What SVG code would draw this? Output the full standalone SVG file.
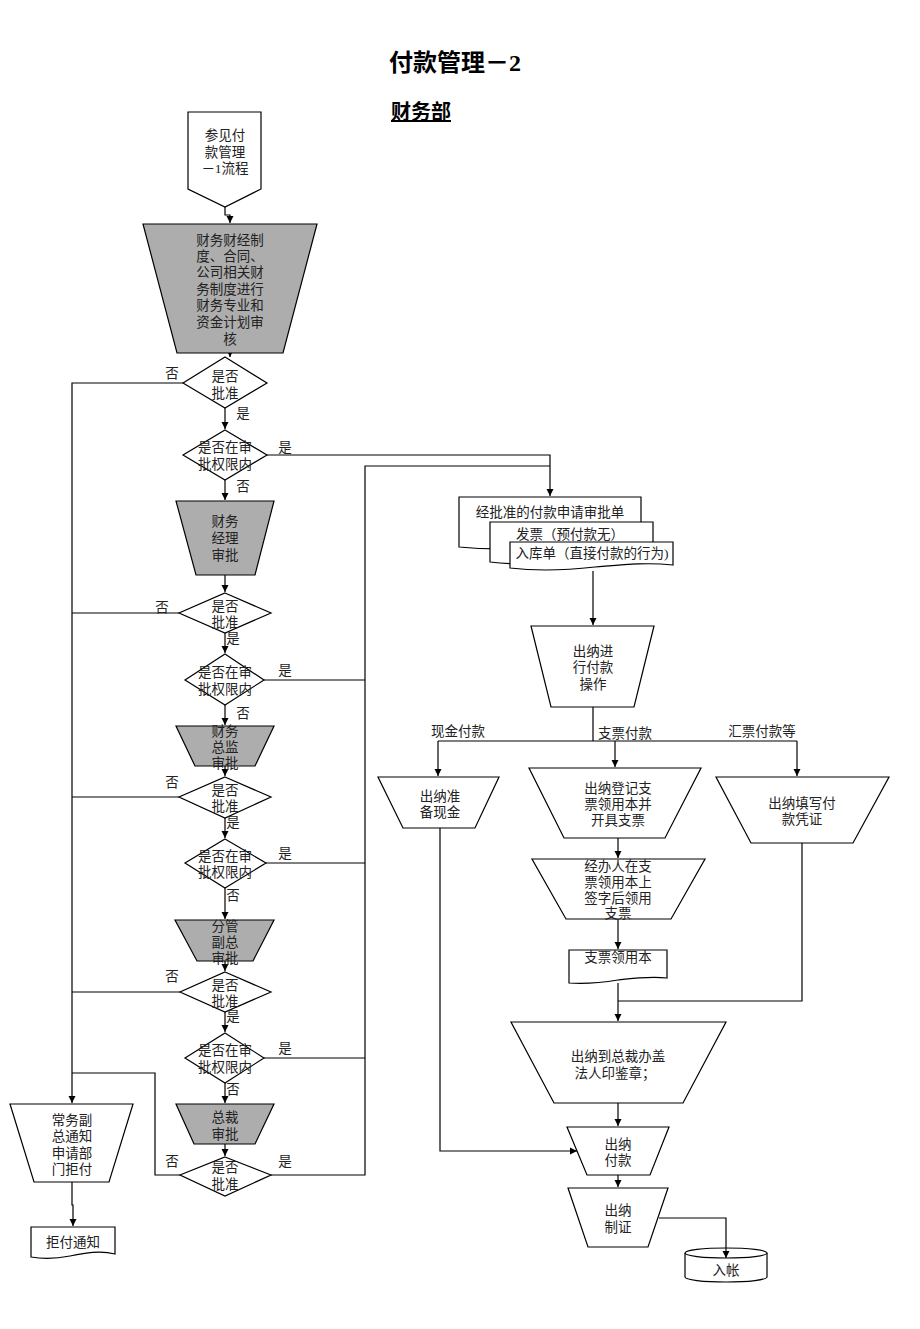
<svg xmlns="http://www.w3.org/2000/svg" width="920" height="1329" viewBox="0 0 920 1329">
<style>
.s{fill:#fff;stroke:#000;stroke-width:1.2}
.n{fill:none;stroke:#000;stroke-width:1.2}
.g{fill:#adadad;stroke:#000;stroke-width:1.2}
.t{font-family:"Liberation Serif","Noto Sans CJK SC",serif;font-size:13.5px;text-anchor:middle;fill:#222}
.c{fill:none;stroke:#000;stroke-width:1.2}
.a{marker-end:url(#ah)}
.h{font-family:"Liberation Serif","Noto Sans CJK SC",serif;font-weight:bold;text-anchor:middle;fill:#000}
</style>
<defs>
<marker id="ah" markerWidth="8" markerHeight="8" refX="7" refY="4" orient="auto" markerUnits="userSpaceOnUse"><path d="M0,0.5 L7,4 L0,7.5 z" fill="#000"/></marker>
</defs>
<rect width="920" height="1329" fill="#fff"/>
<text class="h" x="455" y="71" font-size="24">付款管理－2</text>
<text class="h" x="421" y="119" font-size="20" text-decoration="underline">财务部</text>

<g id="n-ledger">
<path class="s" d="M685,1253 V1277 A41,5 0 0 0 767,1277 V1253"/>
<ellipse class="s" cx="726" cy="1253" rx="41" ry="5"/>
<text class="t" x="726" y="1275">入帐</text>
</g>

<g id="connectors">
<path class="c a" d="M225,207 V215 H230 V223"/>
<path class="c a" d="M230,352 V357"/>
<path class="c a" d="M183,383 H72 V1103"/>
<path class="c a" d="M225,408 V429"/>
<path class="c a" d="M267,455 H550 V496"/>
<path class="c a" d="M225,480 V500"/>
<path class="c a" d="M225,575 V592"/>
<path class="c" d="M179,613 H72"/>
<path class="c a" d="M225,633 V653"/>
<path class="c" d="M264,680 H365"/>
<path class="c a" d="M225,705 V725"/>
<path class="c a" d="M225,766 V776"/>
<path class="c" d="M179,797 H72"/>
<path class="c a" d="M225,818 V838"/>
<path class="c" d="M266,863 H365"/>
<path class="c a" d="M225,888 V919"/>
<path class="c a" d="M225,961 V971"/>
<path class="c" d="M180,992 H72"/>
<path class="c a" d="M225,1012 V1032"/>
<path class="c" d="M264,1058 H365"/>
<path class="c a" d="M225,1083 V1103"/>
<path class="c a" d="M225,1144 V1156"/>
<path class="c" d="M271,1175 H365 V466 H550"/>
<path class="c" d="M180,1175 H155 V1073 H72"/>
<path class="c a" d="M72,1182 V1205 H73 V1226"/>
<path class="c a" d="M593,571 V625"/>
<path class="c" d="M593,707 V741 M438,741 H797"/>
<path class="c a" d="M438,741 V776"/>
<path class="c a" d="M615,741 V767"/>
<path class="c a" d="M797,741 V776"/>
<path class="c a" d="M618,838 V858"/>
<path class="c a" d="M618,919 V949"/>
<path class="c a" d="M618,983 V1021"/>
<path class="c" d="M802,843 V1001 H618"/>
<path class="c a" d="M618,1103 V1126"/>
<path class="c a" d="M440,828 V1151 H577"/>
<path class="c a" d="M618,1175 V1187"/>
<path class="c a" d="M659,1218 H726 V1258"/>
</g>

<g id="n-ref">
<polygon class="s" points="188,112 261,112 261,189 225,207 188,189"/>
<text class="t" x="225" y="140">参见付</text>
<text class="t" x="225" y="157">款管理</text>
<text class="t" x="225" y="173">－1流程</text>
</g>

<g id="n-audit">
<polygon class="g" points="143,224 317,224 283,353 177,353"/>
<text class="t" x="230" y="245">财务财经制</text>
<text class="t" x="230" y="261">度、合同、</text>
<text class="t" x="230" y="277">公司相关财</text>
<text class="t" x="230" y="294">务制度进行</text>
<text class="t" x="230" y="310">财务专业和</text>
<text class="t" x="230" y="327">资金计划审</text>
<text class="t" x="230" y="344">核</text>
</g>

<g id="d1">
<polygon class="s" points="225,357 267,383 225,408 183,383"/>
<text class="t" x="225" y="381">是否</text><text class="t" x="225" y="398">批准</text>
<text class="t" x="172" y="378">否</text><text class="t" x="243" y="418">是</text>
</g>
<g id="d2">
<polygon class="s" points="225,430 267,455 225,480 183,455"/>
<text class="t" x="225" y="452">是否在审</text><text class="t" x="225" y="469">批权限内</text>
<text class="t" x="285" y="452">是</text><text class="t" x="243" y="491">否</text>
</g>
<g id="n-mgr">
<polygon class="g" points="176,501 274,501 255,575 196,575"/>
<text class="t" x="225" y="526">财务</text><text class="t" x="225" y="543">经理</text><text class="t" x="225" y="560">审批</text>
</g>
<g id="d3">
<polygon class="s" points="225,593 271,613 225,633 179,613"/>
<text class="t" x="225" y="611">是否</text><text class="t" x="225" y="627">批准</text>
<text class="t" x="162" y="612">否</text><text class="t" x="233" y="643">是</text>
</g>
<g id="d4">
<polygon class="s" points="225,654 264,680 225,705 185,680"/>
<text class="t" x="225" y="677">是否在审</text><text class="t" x="225" y="694">批权限内</text>
<text class="t" x="285" y="675">是</text><text class="t" x="243" y="718">否</text>
</g>
<g id="n-cfo">
<polygon class="g" points="176,726 274,726 255,766 195,766"/>
<text class="t" x="225" y="736">财务</text><text class="t" x="225" y="752">总监</text><text class="t" x="225" y="768">审批</text>
</g>
<g id="d5">
<polygon class="s" points="225,777 271,797 225,818 179,797"/>
<text class="t" x="225" y="795">是否</text><text class="t" x="225" y="811">批准</text>
<text class="t" x="172" y="787">否</text><text class="t" x="233" y="827">是</text>
</g>
<g id="d6">
<polygon class="s" points="225,839 266,863 225,888 185,863"/>
<text class="t" x="225" y="861">是否在审</text><text class="t" x="225" y="877">批权限内</text>
<text class="t" x="285" y="858">是</text><text class="t" x="233" y="900">否</text>
</g>
<g id="n-vp">
<polygon class="g" points="175,920 274,920 253,961 197,961"/>
<text class="t" x="225" y="931">分管</text><text class="t" x="225" y="947">副总</text><text class="t" x="225" y="963">审批</text>
</g>
<g id="d7">
<polygon class="s" points="225,972 271,992 225,1012 180,992"/>
<text class="t" x="225" y="990">是否</text><text class="t" x="225" y="1006">批准</text>
<text class="t" x="172" y="981">否</text><text class="t" x="233" y="1021">是</text>
</g>
<g id="d8">
<polygon class="s" points="225,1033 264,1058 225,1083 185,1058"/>
<text class="t" x="225" y="1055">是否在审</text><text class="t" x="225" y="1072">批权限内</text>
<text class="t" x="285" y="1053">是</text><text class="t" x="233" y="1094">否</text>
</g>
<g id="n-ceo">
<polygon class="g" points="176,1104 274,1104 255,1144 194,1144"/>
<text class="t" x="225" y="1122">总裁</text><text class="t" x="225" y="1139">审批</text>
</g>
<g id="d9">
<polygon class="s" points="225,1157 271,1175 225,1196 180,1175"/>
<text class="t" x="225" y="1172">是否</text><text class="t" x="225" y="1189">批准</text>
<text class="t" x="172" y="1166">否</text><text class="t" x="285" y="1166">是</text>
</g>

<g id="n-reject">
<polygon class="s" points="10,1104 133,1104 109,1182 34,1182"/>
<text class="t" x="72" y="1125">常务副</text><text class="t" x="72" y="1141">总通知</text>
<text class="t" x="72" y="1158">申请部</text><text class="t" x="72" y="1174">门拒付</text>
</g>
<g id="n-rejdoc">
<path class="s" d="M31,1227 H115 V1254 C100,1250 85,1253 70,1256 C55,1259 42,1259 31,1257 Z"/>
<text class="t" x="73" y="1247">拒付通知</text>
</g>

<g id="n-docs">
<path class="s" d="M459,497 H641 V541 C615,537 590,541 560,545 C520,550 490,550 459,547 Z"/>
<text class="t" x="550" y="517">经批准的付款申请审批单</text>
<path class="s" d="M490,522 H653 V558 C625,555 600,558 575,561 C540,565 515,565 490,562 Z"/>
<text class="t" x="570" y="539">发票（预付款无）</text>
<path class="s" d="M510,542 H673 V565 C645,562 620,565 595,567 C560,571 535,571 510,568 Z"/>
<text class="t" x="592" y="558">入库单（直接付款的行为)</text>
</g>

<g id="n-pay-op">
<polygon class="s" points="531,626 654,626 634,707 551,707"/>
<text class="t" x="593" y="656">出纳进</text><text class="t" x="593" y="672">行付款</text><text class="t" x="593" y="689">操作</text>
</g>
<g id="l-branch">
<text class="t" x="458" y="736">现金付款</text>
<text class="t" x="625" y="738">支票付款</text>
<text class="t" x="762" y="736">汇票付款等</text>
</g>
<g id="n-cash">
<polygon class="s" points="378,777 499,777 475,828 403,828"/>
<text class="t" x="440" y="801">出纳准</text><text class="t" x="440" y="817">备现金</text>
</g>
<g id="n-cheque">
<polygon class="s" points="529,768 701,768 665,838 564,838"/>
<text class="t" x="618" y="793">出纳登记支</text><text class="t" x="618" y="809">票领用本并</text><text class="t" x="618" y="825">开具支票</text>
</g>
<g id="n-draft">
<polygon class="s" points="716,777 889,777 853,843 751,843"/>
<text class="t" x="802" y="808">出纳填写付</text><text class="t" x="802" y="824">款凭证</text>
</g>
<g id="n-sign">
<polygon class="s" points="532,859 705,859 671,919 566,919"/>
<text class="t" x="618" y="871">经办人在支</text><text class="t" x="618" y="887">票领用本上</text>
<text class="t" x="618" y="903">签字后领用</text><text class="t" x="618" y="918">支票</text>
</g>
<g id="n-chequebook">
<path class="s" d="M569,950 H667 V978 C650,976 635,978 618,980 C600,983 585,984 569,983 Z"/>
<text class="t" x="618" y="962">支票领用本</text>
</g>
<g id="n-seal">
<polygon class="s" points="511,1022 726,1022 683,1103 554,1103"/>
<text class="t" x="618" y="1061">出纳到总裁办盖</text><text class="t" x="615" y="1078">法人印鉴章；</text>
</g>
<g id="n-pay">
<polygon class="s" points="567,1127 669,1127 650,1175 587,1175"/>
<text class="t" x="618" y="1149">出纳</text><text class="t" x="618" y="1165">付款</text>
</g>
<g id="n-voucher">
<polygon class="s" points="568,1188 668,1188 648,1247 588,1247"/>
<text class="t" x="618" y="1215">出纳</text><text class="t" x="618" y="1232">制证</text>
</g>
</svg>
